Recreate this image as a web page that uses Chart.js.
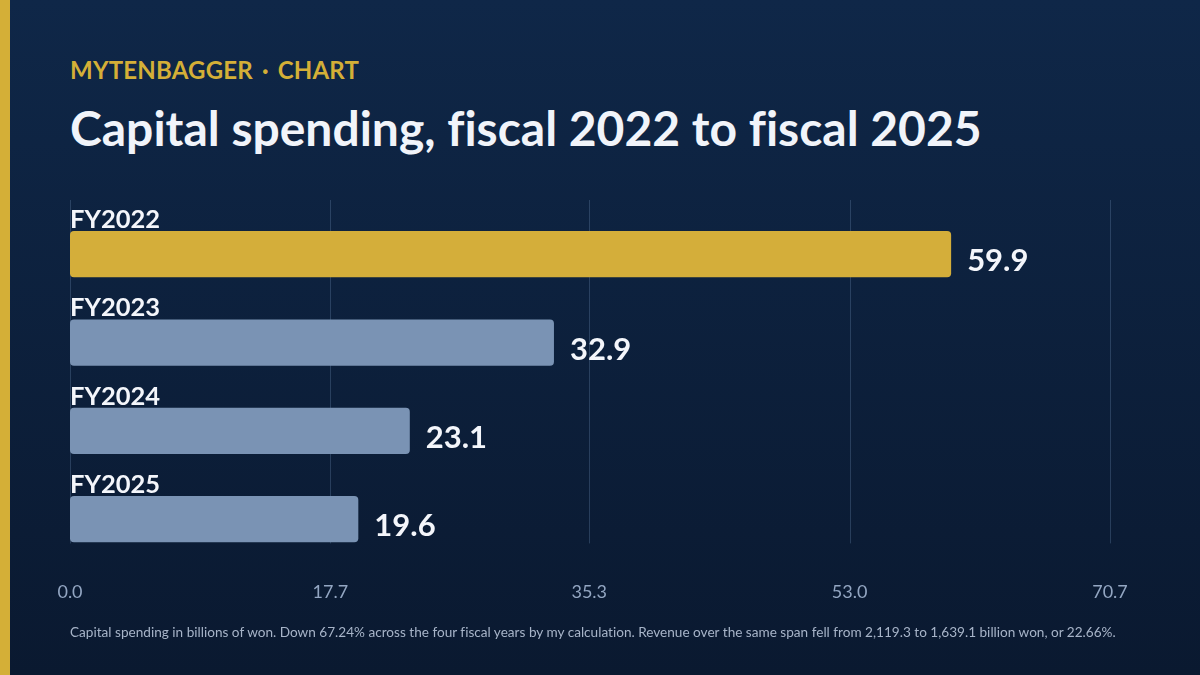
<!DOCTYPE html>
<html>
<head>
<meta charset="utf-8">
<script src="https://cdn.jsdelivr.net/npm/chart.js@4.4.1/dist/chart.umd.min.js"></script>
<style>
  html, body { margin: 0; padding: 0; }
  body {
    width: 1200px; height: 675px; overflow: hidden; position: relative;
    background: linear-gradient(180deg, #0f2748 0%, #0a1930 100%);
    font-family: Lato, "Noto Sans", sans-serif;
    font-variant-ligatures: none;
  }
  .stripe { position: absolute; left: 0; top: 0; width: 10px; height: 675px; background: #d4af37; }
  .kicker { position: absolute; left: 70px; top: 55px; color: #d4af37; font-weight: 700; font-size: 24px; letter-spacing: 0.2px; word-spacing: 3px; }
  .title { position: absolute; left: 70px; top: 99px; color: #f1f4fa; font-weight: 700; font-size: 48px; }
  .note { position: absolute; left: 70px; top: 624px; color: #a7b4c8; font-size: 13.6px; }
  .wrap { position: absolute; left: 0; top: 180px; width: 1200px; height: 456px; }
</style>
</head>
<body>
<div class="stripe"></div>
<div class="kicker">MYTENBAGGER · CHART</div>
<div class="title">Capital spending, fiscal 2022 to fiscal 2025</div>
<div class="wrap"><canvas id="barChart"></canvas></div>
<div class="note">Capital spending in billions of won. Down 67.24% across the four fiscal years by my calculation. Revenue over the same span fell from 2,119.3 to 1,639.1 billion won, or 22.66%.</div>

<script>
const years = ['FY2022', 'FY2023', 'FY2024', 'FY2025'];
const capex = [59.9, 32.9, 23.1, 19.6];
const tickValues = [0, 17.7, 35.3, 53.0, 70.7];
const barColors = ['#d4ae3a', '#7a93b4', '#7a93b4', '#7a93b4'];

// vertical guides, stopping a bit short of the tick row
const guideLines = {
  id: 'guideLines',
  beforeDatasetsDraw(chart) {
    const { ctx, chartArea } = chart;
    const x = chart.scales.x;
    ctx.save();
    ctx.strokeStyle = 'rgba(120, 150, 190, 0.28)';
    ctx.lineWidth = 1;
    x.ticks.forEach(t => {
      const px = Math.round(x.getPixelForValue(t.value)) + 0.5;
      ctx.beginPath();
      ctx.moveTo(px, chartArea.top - 10);
      ctx.lineTo(px, chartArea.bottom - 20);
      ctx.stroke();
    });
    ctx.restore();
  }
};

// year above each bar, value to the right of it
const barLabels = {
  id: 'barLabels',
  afterDatasetsDraw(chart) {
    const { ctx } = chart;
    const meta = chart.getDatasetMeta(0);
    const x0 = chart.scales.x.getPixelForValue(0);
    ctx.save();
    ctx.fillStyle = '#f4f6fb';
    meta.data.forEach((bar, i) => {
      const top = bar.y - bar.height / 2;
      ctx.font = '700 25.5px Lato, "Noto Sans", sans-serif';
      ctx.textAlign = 'left';
      ctx.textBaseline = 'alphabetic';
      ctx.fillText(years[i], x0, top - 3);
      ctx.font = '700 31px Lato, "Noto Sans", sans-serif';
      ctx.textBaseline = 'middle';
      ctx.fillText(capex[i].toFixed(1), bar.x + 16, bar.y + 7);
    });
    ctx.restore();
  }
};

new Chart(document.getElementById('barChart').getContext('2d'), {
  type: 'bar',
  data: {
    labels: years,
    datasets: [{
      data: capex,
      backgroundColor: barColors,
      borderRadius: 4,
      borderSkipped: false,
      barPercentage: 0.523,
      categoryPercentage: 1
    }]
  },
  options: {
    indexAxis: 'y',
    responsive: true,
    maintainAspectRatio: false,
    animation: false,
    layout: { padding: { left: 70, right: 90, top: 30, bottom: 15 } },
    plugins: { legend: { display: false }, tooltip: { enabled: false } },
    scales: {
      x: {
        min: 0,
        max: 70.7,
        afterBuildTicks(scale) {
          scale.ticks = tickValues.map(v => ({ value: v }));
        },
        grid: { display: false, drawTicks: false },
        border: { display: false },
        ticks: {
          color: '#93a6c2',
          padding: 18,
          font: { family: 'Lato, "Noto Sans", sans-serif', size: 18 },
          callback: v => Number(v).toFixed(1)
        }
      },
      y: { display: false }
    }
  },
  plugins: [guideLines, barLabels]
});
</script>
</body>
</html>
